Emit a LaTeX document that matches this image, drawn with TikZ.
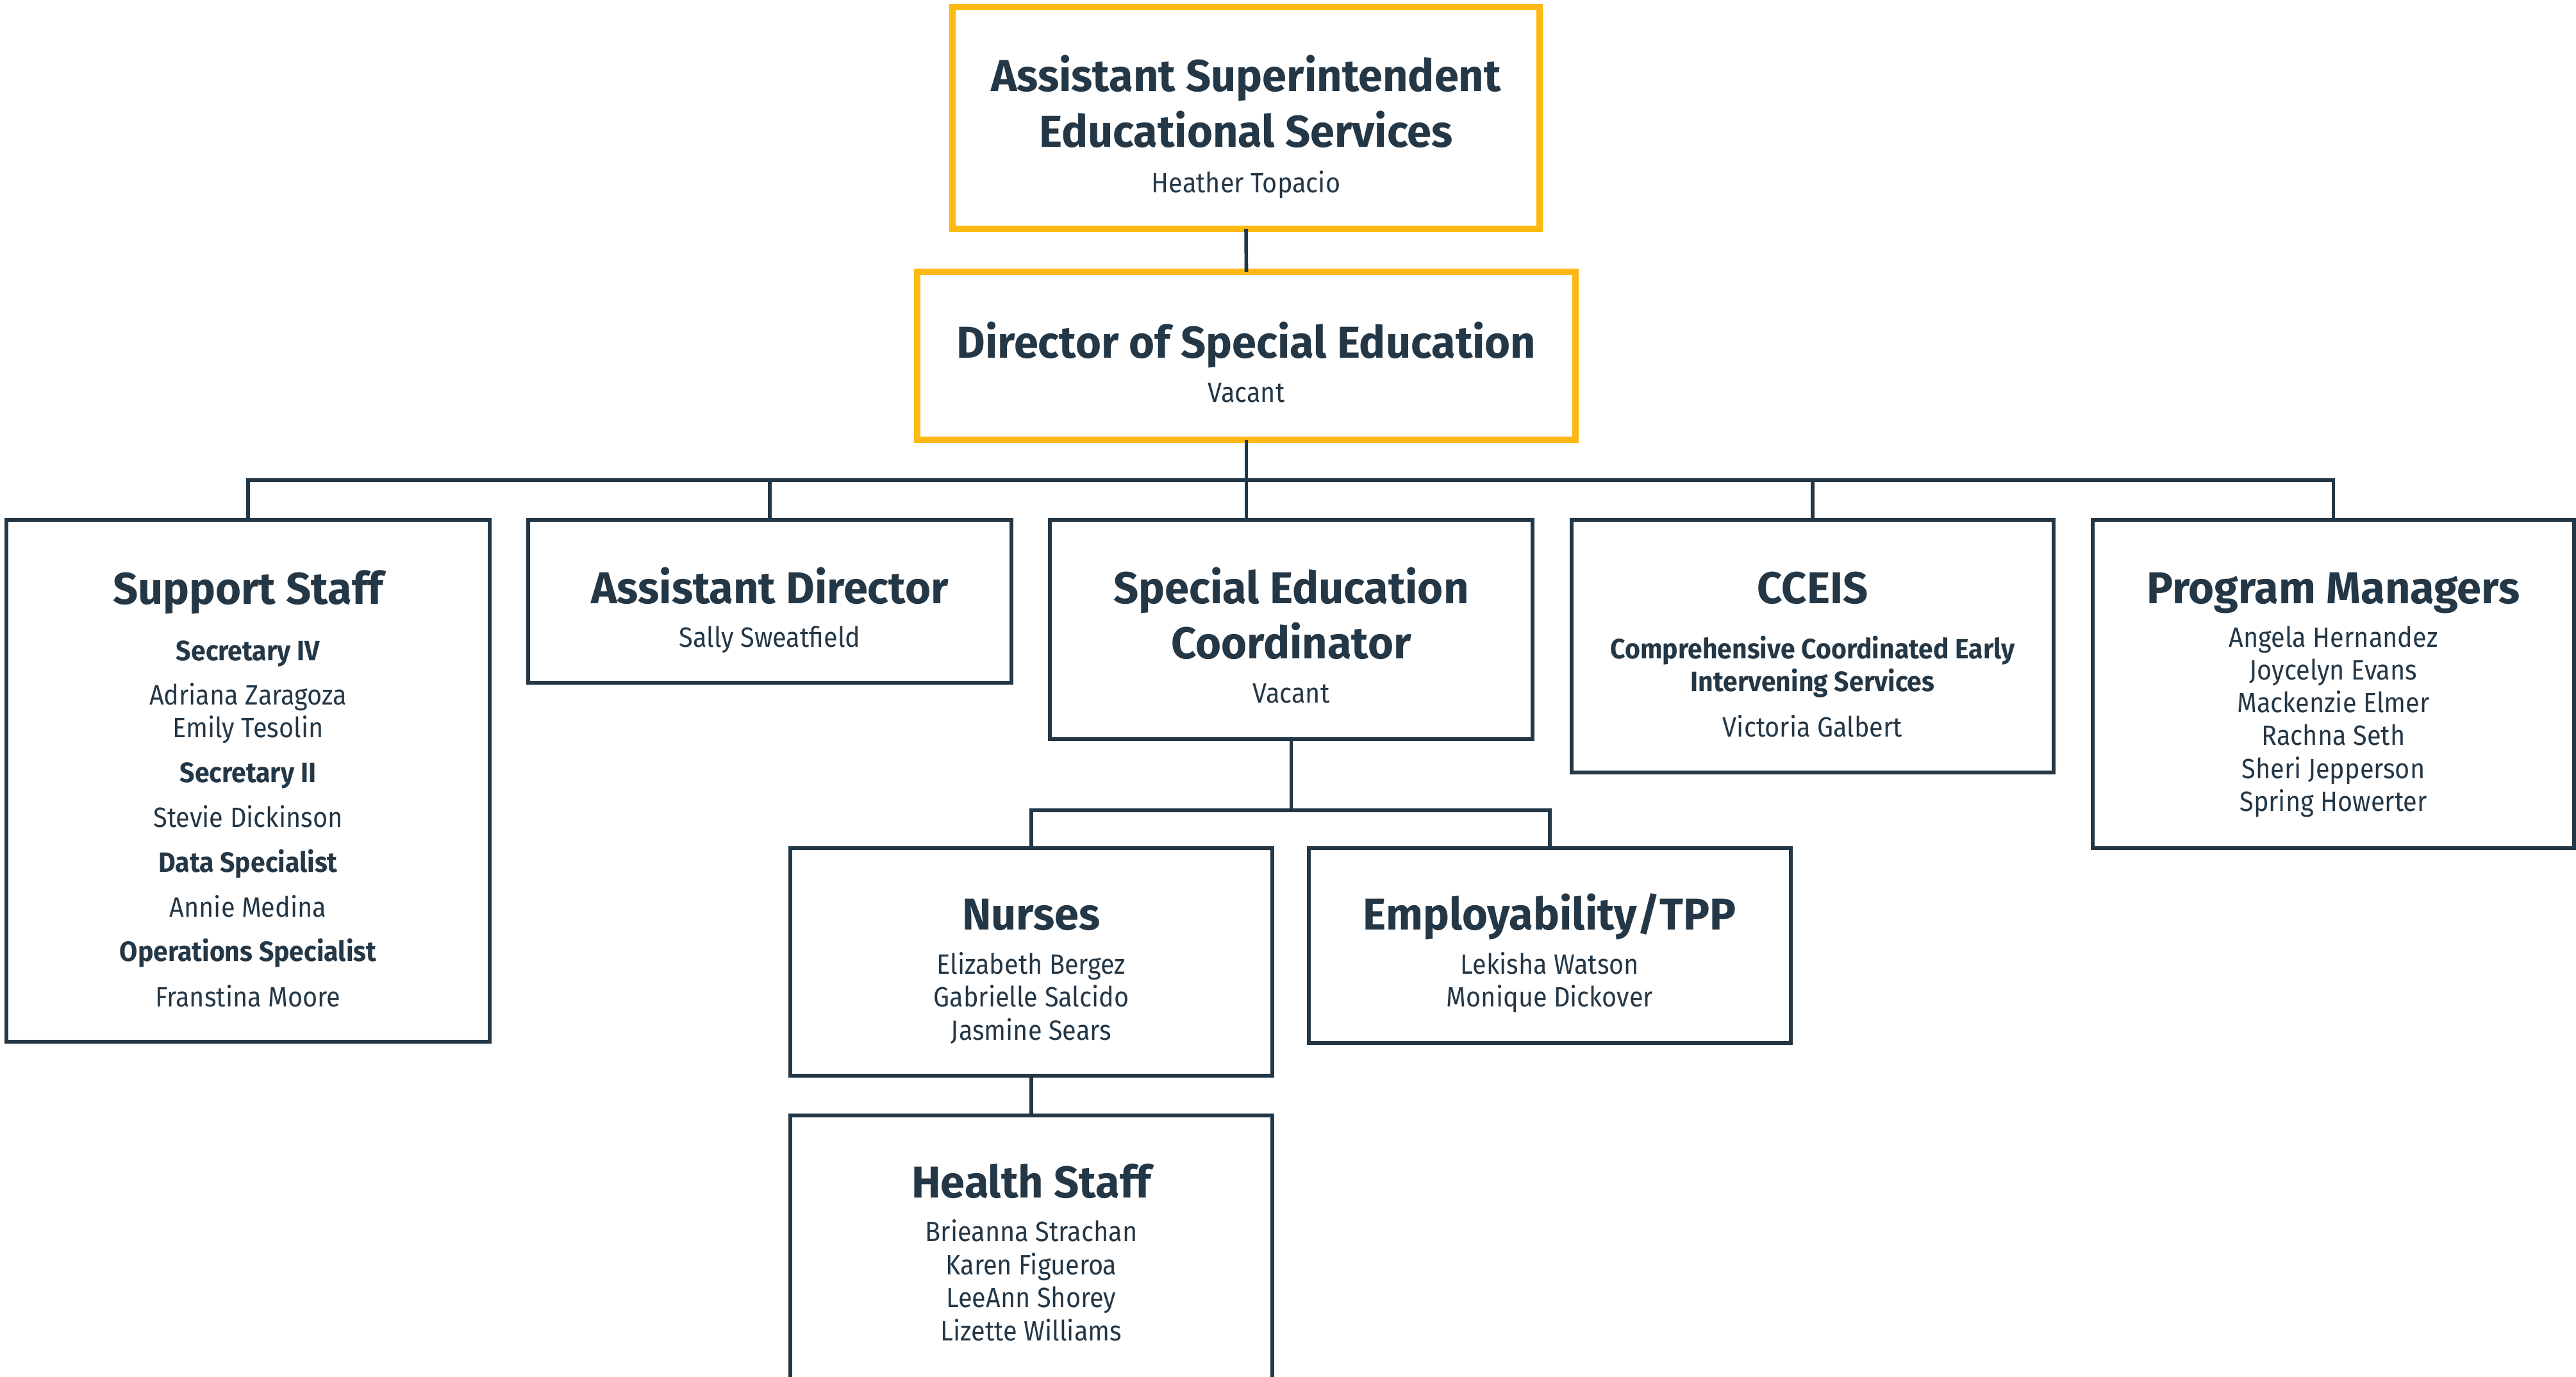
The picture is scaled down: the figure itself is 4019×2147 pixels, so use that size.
\documentclass[tikz,border=0pt]{standalone}
\usepackage{fontspec}
\setmainfont{Fira Sans}
\newfontfamily\ttlfont[FakeStretch=0.985]{Fira Sans}
\newfontfamily\subfont[FakeStretch=0.94]{Fira Sans}
\newfontfamily\nmfont[FakeStretch=0.91]{Fira Sans}
\definecolor{navy}{HTML}{243746}
\definecolor{gold}{HTML}{FDB913}
\tikzset{
  box/.style={draw=navy, line width=1.6pt, rectangle, inner sep=0pt, outer sep=0pt, fill=white},
  goldbox/.style={box, draw=gold, line width=2.9pt},
  ttl/.style={anchor=base, text=navy, font=\ttlfont\fontsize{19.8}{23}\selectfont\bfseries, inner sep=0pt},
  subt/.style={anchor=base, text=navy, font=\subfont\fontsize{12.4}{14}\selectfont\bfseries, inner sep=0pt},
  nm/.style={anchor=base, text=navy, font=\nmfont\fontsize{12.4}{14}\selectfont, inner sep=0pt},
  conn/.style={draw=navy, line width=1.6pt},
}
\begin{document}
\begin{tikzpicture}[x=0.01cm, y=-0.01cm]
\clip (0,0) rectangle (4019,2147);
\fill[white] (0,0) rectangle (4019,2147);
% boxes
\node[goldbox, minimum width=9.16cm, minimum height=3.46cm] (ase) at (1944,184) {};
\node[goldbox, minimum width=10.27cm, minimum height=2.62cm] (dir) at (1944.5,555) {};
\node[box, minimum width=7.54cm, minimum height=8.14cm] (ss) at (387,1218) {};
\node[box, minimum width=7.54cm, minimum height=2.54cm] (ad) at (1201,938) {};
\node[box, minimum width=7.53cm, minimum height=3.42cm] (sec) at (2014.5,982) {};
\node[box, minimum width=7.52cm, minimum height=3.94cm] (cceis) at (2828,1008) {};
\node[box, minimum width=7.51cm, minimum height=5.12cm] (pm) at (3640.5,1067) {};
\node[box, minimum width=7.52cm, minimum height=3.55cm] (nur) at (1609,1500.5) {};
\node[box, minimum width=7.52cm, minimum height=3.04cm] (emp) at (2418,1475) {};
\node[box, minimum width=7.52cm, minimum height=4.30cm] (hs) at (1609,1955) {};
% connectors
\coordinate (bus) at (1944.5,749);
\coordinate (sub) at (2014.5,1264);
\draw[conn] (ase.south) -- (dir.north);
\draw[conn] (dir.south) -- (dir.south |- sec.north);
\draw[conn] (ss.north) -- (ss.north |- bus) -- (pm.north |- bus) -- (pm.north);
\draw[conn] (ad.north) -- (ad.north |- bus);
\draw[conn] (cceis.north) -- (cceis.north |- bus);
\draw[conn] (sec.south) -- (sub);
\draw[conn] (nur.north) -- (nur.north |- sub) -- (emp.north |- sub) -- (emp.north);
\draw[conn] (nur.south) -- (hs.north);
% texts: top
\node[ttl] (ase-1) at (1944,142) {Assistant Superintendent};
\node[ttl] (ase-2) at (1944,229.6) {Educational Services};
\node[nm] (ase-3) at (1944,300.7) {Heather Topacio};
\node[ttl] (dir-1) at (1944.5,558) {Director of Special Education};
\node[nm] (dir-2) at (1944.5,627) {Vacant};
% support staff
\node[ttl] (ss-1) at (387,942) {Support Staff};
\node[subt] (ss-2) at (387,1030) {Secretary IV};
\node[nm] (ss-3) at (387,1099) {Adriana Zaragoza};
\node[nm] (ss-4) at (387,1150) {Emily Tesolin};
\node[subt] (ss-5) at (387,1220) {Secretary II};
\node[nm] (ss-6) at (387,1290) {Stevie Dickinson};
\node[subt] (ss-7) at (387,1360) {Data Specialist};
\node[nm] (ss-8) at (387,1430) {Annie Medina};
\node[subt] (ss-9) at (387,1499) {Operations Specialist};
\node[nm] (ss-10) at (387,1570) {Franstina Moore};
% assistant director
\node[ttl] (ad-1) at (1201,941) {Assistant Director};
\node[nm] (ad-2) at (1201,1009) {Sally Sweatfield};
% coordinator
\node[ttl] (sec-1) at (2014.5,941) {Special Education};
\node[ttl] (sec-2) at (2014.5,1027) {Coordinator};
\node[nm] (sec-3) at (2014.5,1096) {Vacant};
% cceis
\node[ttl] (cc-1) at (2828,941) {CCEIS};
\node[subt] (cc-2) at (2828,1027) {Comprehensive Coordinated Early};
\node[subt] (cc-3) at (2828,1078) {Intervening Services};
\node[nm] (cc-4) at (2828,1149) {Victoria Galbert};
% program managers
\node[ttl] (pm-1) at (3640.5,941) {Program Managers};
\node[nm] (pm-2) at (3640.5,1009) {Angela Hernandez};
\node[nm] (pm-3) at (3640.5,1060) {Joycelyn Evans};
\node[nm] (pm-4) at (3640.5,1111) {Mackenzie Elmer};
\node[nm] (pm-5) at (3640.5,1162) {Rachna Seth};
\node[nm] (pm-6) at (3640.5,1214) {Sheri Jepperson};
\node[nm] (pm-7) at (3640.5,1265) {Spring Howerter};
% nurses
\node[ttl] (nur-1) at (1609,1450) {Nurses};
\node[nm] (nur-2) at (1609,1519) {Elizabeth Bergez};
\node[nm] (nur-3) at (1609,1570) {Gabrielle Salcido};
\node[nm] (nur-4) at (1609,1622) {Jasmine Sears};
% employability
\node[ttl] (emp-1) at (2418,1450) {Employability/TPP};
\node[nm] (emp-2) at (2418,1519) {Lekisha Watson};
\node[nm] (emp-3) at (2418,1570) {Monique Dickover};
% health staff
\node[ttl] (hs-1) at (1609,1868) {Health Staff};
\node[nm] (hs-2) at (1609,1936.5) {Brieanna Strachan};
\node[nm] (hs-3) at (1609,1988) {Karen Figueroa};
\node[nm] (hs-4) at (1609,2039.5) {LeeAnn Shorey};
\node[nm] (hs-5) at (1609,2091) {Lizette Williams};
\end{tikzpicture}
\end{document}
